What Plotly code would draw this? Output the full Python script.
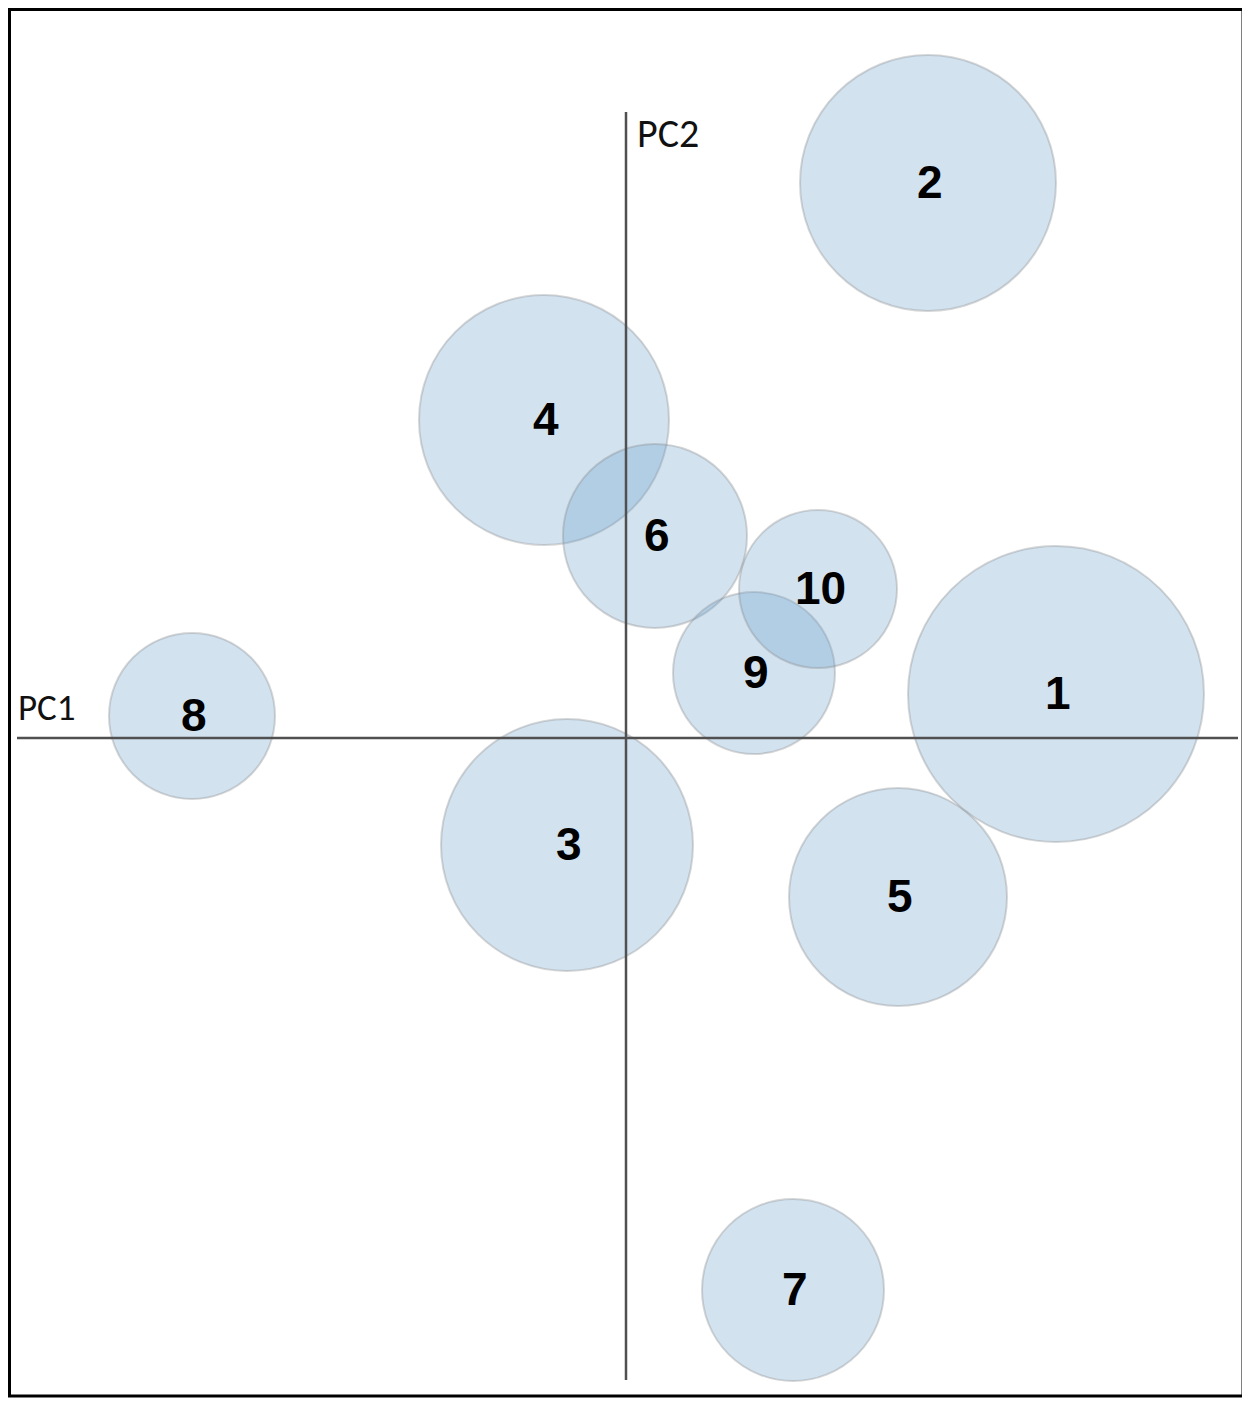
#!/usr/bin/env python3
"""
PCA bubble map - items placed on PC1 / PC2 with bubble size per item.
"""

import plotly.graph_objects as go

# item scores on the two principal components and bubble radius (same units)
labels = ['1', '2', '3', '4', '5', '6', '7', '8', '9', '10']
pc1 = [4.30, 3.02, -0.59, -0.82, 2.72, 0.29, 1.67, -4.34, 1.28, 1.92]
pc2 = [0.44, 5.55, -1.07, 3.18, -1.59, 2.02, -5.52, 0.22, 0.65, 1.49]
radius = [1.48, 1.28, 1.26, 1.25, 1.09, 0.92, 0.91, 0.83, 0.81, 0.79]

# page body adds an 8px margin, so the figure is 8px smaller than the window
W, H = 1242, 1393
PX_PER_UNIT = 100
X_RANGE = [-6.18, 6.24]
Y_RANGE = [-6.63, 7.30]

AXIS_COLOR = '#505050'
LABEL_FONT = 'Liberation Sans Narrow, Arial Narrow, Liberation Sans, Arial, sans-serif'
AXIS_FONT = 'Carlito, Calibri, Lato, Open Sans, sans-serif'


def create_bubble_map():
    fig = go.Figure()

    fig.add_trace(go.Scatter(
        x=pc1,
        y=pc2,
        mode='markers',
        text=labels,
        marker=dict(
            size=radius,
            sizemode='diameter',
            sizeref=1 / (2 * PX_PER_UNIT),
            color='rgba(105,158,202,0.30)',
            opacity=1,
            line=dict(color='rgba(130,130,130,0.32)', width=2)
        ),
        hoverinfo='text',
        showlegend=False
    ))

    # bubble numbers
    for lab, x, y in zip(labels, pc1, pc2):
        fig.add_annotation(x=x, y=y, text=f'<b>{lab}</b>', showarrow=False,
                           xshift=2, yshift=1,
                           font=dict(family=LABEL_FONT, size=46, color='#000000'))

    # axis cross
    fig.add_shape(type='line', x0=-6.09, x1=6.12, y0=0, y1=0,
                  line=dict(color=AXIS_COLOR, width=2.5), layer='above')
    fig.add_shape(type='line', x0=0, x1=0, y0=-6.42, y1=6.26,
                  line=dict(color=AXIS_COLOR, width=2.5), layer='above')

    fig.add_annotation(x=-6.10, y=0.06, text='PC1', showarrow=False,
                       xanchor='left', yanchor='bottom',
                       font=dict(family=AXIS_FONT, size=37, color='#111111'))
    fig.add_annotation(x=0.09, y=6.05, text='PC2', showarrow=False,
                       xanchor='left', yanchor='middle',
                       font=dict(family=AXIS_FONT, size=40, color='#111111'))

    # outer frame
    fig.add_shape(type='rect', xref='paper', yref='paper',
                  x0=1.5 / W, x1=1235 / W, y0=1 - 1388 / H, y1=1 - 1.5 / H,
                  line=dict(color='#000000', width=3), layer='above')

    fig.update_xaxes(range=X_RANGE, visible=False, fixedrange=True)
    fig.update_yaxes(range=Y_RANGE, visible=False, fixedrange=True)

    fig.update_layout(
        width=W,
        height=H,
        margin=dict(l=0, r=0, t=0, b=0),
        paper_bgcolor='white',
        plot_bgcolor='white'
    )
    return fig


def main():
    fig = create_bubble_map()
    fig.write_html('out.html')


if __name__ == '__main__':
    main()
